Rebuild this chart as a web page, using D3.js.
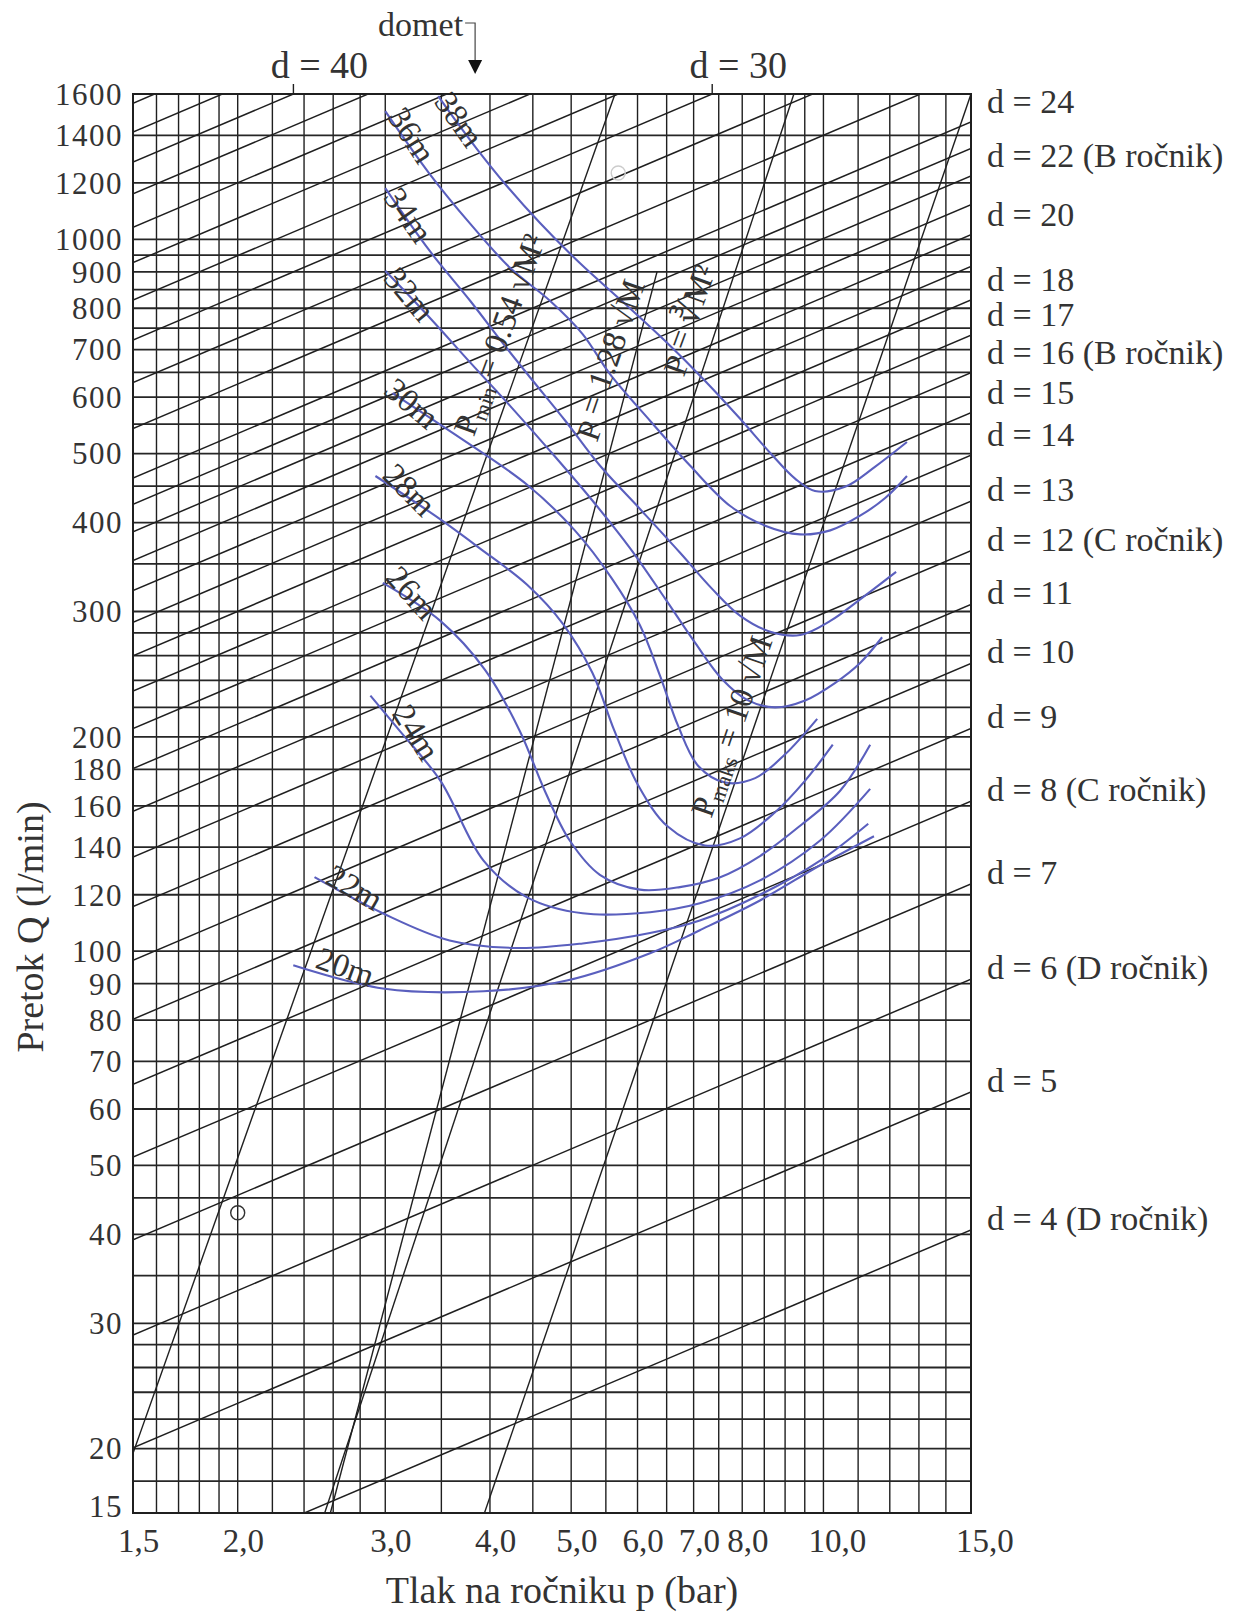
<!DOCTYPE html>
<html>
<head>
<meta charset="utf-8">
<script src="https://cdn.jsdelivr.net/npm/d3@7"></script>
<style>
  body { margin: 0; background: #fff; }
  svg text { font-family: "Liberation Serif", "Times New Roman", serif; fill: #333; }
</style>
</head>
<body>
<div id="chart"></div>
<script>
// ---- data ----
const pTicks = [1.5, 2.0, 3.0, 4.0, 5.0, 6.0, 7.0, 8.0, 10.0, 15.0];
const pGrid = [1.5, 1.6, 1.7, 1.8, 1.9, 2.0, 2.2, 2.4, 2.6, 2.8, 3.0, 3.5, 4.0, 4.5, 5.0, 5.5, 6.0, 6.5, 7.0, 7.5, 8.0, 8.5, 9.0, 9.5, 10, 11, 12, 13, 14, 15];
const qTicks = [15, 20, 30, 40, 50, 60, 70, 80, 90, 100, 120, 140, 160, 180, 200, 300, 400, 500, 600, 700, 800, 900, 1000, 1200, 1400, 1600];
const qGrid = [18, 20, 22, 24, 26, 28, 30, 35, 40, 45, 50, 60, 70, 80, 90, 100, 120, 140, 160, 180, 200, 220, 240, 260, 280, 300, 350, 400, 450, 500, 550, 600, 650, 700, 750, 800, 850, 900, 950, 1000, 1200, 1400, 1600];

// nozzle diameters (mm) of the oblique lines, Q = k * d^2 * sqrt(p)
const nozzleD = [4, 5, 6, 7, 8, 9, 10, 11, 12, 13, 14, 15, 16, 17, 18, 19, 20, 21, 22, 23, 24, 26, 28, 30, 32, 34, 36, 38, 40, 42, 44];
const nozzleK = 0.655;
const rightLabels = [
  [24, "d = 24"], [22, "d = 22 (B ročnik)"], [20, "d = 20"], [18, "d = 18"], [17, "d = 17"],
  [16, "d = 16 (B ročnik)"], [15, "d = 15"], [14, "d = 14"], [13, "d = 13"], [12, "d = 12 (C ročnik)"],
  [11, "d = 11"], [10, "d = 10"], [9, "d = 9"], [8, "d = 8 (C ročnik)"], [7, "d = 7"],
  [6, "d = 6 (D ročnik)"], [5, "d = 5"], [4, "d = 4 (D ročnik)"]
];
const topLabels = [[40, "d = 40"], [30, "d = 30"]];

// steep limit lines, [p, Q] end points
const limitLines = [
  [[1.5, 19.7], [5.64, 1600]],
  [[2.58, 16.24], [6.33, 900]],
  [[2.54, 16.24], [9.22, 1600]],
  [[3.94, 16.24], [15, 1600]]
];
const limitLabels = [
  { p: 4.10, q: 735, a: -70, head: "P", sub: "min", rest: " = 0.54 √M²" },
  { p: 5.61, q: 675, a: -71, head: "P", sub: "", rest: " = 1.28 √M" },
  { p: 6.97, q: 768, a: -70, head: "P", sub: "", rest: " = ∛M²" },
  { p: 7.76, q: 207, a: -71, head: "P", sub: "maks", rest: " = 10 √M" }
];

// throw-range curves (domet), [p, Q]
const range38 = [[3.47,1589],[3.63,1475],[3.86,1339],[4.17,1196],[4.59,1054],[5.12,926],[5.80,811],[6.47,720],[7.22,633],[7.95,560],[8.64,501],[9.25,461],[9.77,443],[10.61,449],[11.52,479],[12.58,519]];
const range36 = [[3.00,1514],[3.39,1235],[3.79,1051],[4.23,911],[4.72,819],[5.16,736],[5.56,647],[6.21,556],[6.93,481],[7.74,422],[8.52,396],[9.38,385],[10.19,390],[11.06,409],[11.85,433],[12.58,465]];
const range34 = [[3.00,1180],[3.39,963],[3.79,819],[4.15,713],[4.47,639],[4.92,556],[5.41,481],[6.04,418],[6.74,363],[7.36,323],[7.95,296],[8.64,281],[9.38,278],[10.19,291],[11.06,312],[12.21,341]];
const range32 = [[3.00,903],[3.39,776],[3.79,671],[4.23,583],[4.72,504],[5.27,433],[5.88,368],[6.47,313],[7.03,271],[7.57,241],[8.13,225],[8.75,220],[9.51,225],[10.32,238],[11.06,254],[11.75,276]];
const range30 = [[3.06,608],[3.64,531],[4.43,452],[5.05,390],[5.59,334],[6.04,287],[6.38,244],[6.71,207],[7.09,182],[7.63,172.5],[8.29,175],[9.00,189],[9.83,212]];
const range28 = [[2.92,465],[3.45,408],[3.89,368],[4.43,327],[4.89,288],[5.30,246],[5.63,204],[6.01,171],[6.52,149.6],[7.22,140.7],[7.95,144],[8.75,156.6],[9.51,173.6],[10.26,195]];
const range26 = [[2.98,329],[3.49,291],[3.95,248],[4.34,204],[4.65,168],[4.98,143],[5.41,128],[6.04,122],[6.74,123],[7.53,127],[8.40,136],[9.38,150],[10.47,168],[11.37,195]];
const range24 = [[2.88,228.5],[3.12,204],[3.49,173.6],[3.93,134],[4.43,119],[5.16,113],[6.21,113.4],[7.12,116.7],[8.40,125.7],[9.91,143],[11.37,169]];
const range22 = [[2.47,127],[2.98,113],[3.58,103.5],[4.31,101],[5.16,102.5],[6.21,106],[7.12,110.4],[8.40,120],[9.91,134],[11.31,151]];
const range20 = [[2.33,95.5],[2.98,88.6],[3.93,87.8],[4.94,90.9],[6.21,99.3],[7.12,107],[8.40,117.8],[9.91,132],[11.49,145]];
const rangeNames = ["38m", "36m", "34m", "32m", "30m", "28m", "26m", "24m", "22m", "20m"];
const rangeLabelPos = [[3.68,1475,55],[3.23,1401,57],[3.20,1082,55],[3.21,838,50],[3.23,589,40],[3.21,445,45],[3.23,319,48],[3.27,203,58],[2.76,123,30],[2.69,95.2,20]];

const circleMarks = [[2.0, 42.9]];
const faintMarks = [[5.69, 1239]];
const dometP = 3.84;

// ---- setup ----
const width = 1241, height = 1615;
const plot = { left: 133, right: 971, top: 94, bottom: 1513 };
const qMin = 16.24;

const svg = d3.select("#chart").append("svg")
  .attr("width", width)
  .attr("height", height);

const x = d3.scaleLog().domain([1.5, 15]).range([plot.left, plot.right]);
const y = d3.scaleLog().domain([qMin, 1600]).range([plot.bottom, plot.top]);
const yTick = y.copy().clamp(true);

svg.append("defs").append("clipPath").attr("id", "plotClip")
  .append("rect")
  .attr("x", plot.left).attr("y", plot.top)
  .attr("width", plot.right - plot.left).attr("height", plot.bottom - plot.top);

const ink = "#1f1f1f";

// grid
const grid = svg.append("g").attr("stroke", ink);
grid.selectAll(".v").data(pGrid).join("line")
  .attr("x1", d => x(d)).attr("x2", d => x(d))
  .attr("y1", plot.top).attr("y2", plot.bottom)
  .attr("stroke-width", 1.4);
grid.selectAll(".h").data(qGrid).join("line")
  .attr("x1", plot.left).attr("x2", plot.right)
  .attr("y1", d => y(d)).attr("y2", d => y(d))
  .attr("stroke-width", 1.8)
  .attr("stroke", "#262626");

// oblique nozzle lines
const nozzleQ = (d, p) => nozzleK * d * d * Math.sqrt(p);
const clipped = svg.append("g").attr("clip-path", "url(#plotClip)");
clipped.append("g").selectAll("line").data(nozzleD).join("line")
  .attr("x1", x(1.5)).attr("y1", d => y(nozzleQ(d, 1.5)))
  .attr("x2", x(15)).attr("y2", d => y(nozzleQ(d, 15)))
  .attr("stroke", ink).attr("stroke-width", 1.5);

// steep limit lines
const line = d3.line().x(d => x(d[0])).y(d => y(d[1]));
clipped.append("g").selectAll("path").data(limitLines).join("path")
  .attr("d", line)
  .attr("fill", "none").attr("stroke", ink).attr("stroke-width", 1.4);

// range curves
const curve = d3.line().x(d => x(d[0])).y(d => y(d[1])).curve(d3.curveCatmullRom.alpha(0.5));
const ranges = [range38, range36, range34, range32, range30, range28, range26, range24, range22, range20];
clipped.append("g").selectAll("path").data(ranges).join("path")
  .attr("d", curve)
  .attr("fill", "none").attr("stroke", "#5a5fbe").attr("stroke-width", 2.1);

// range labels
svg.append("g").selectAll("text").data(rangeNames).join("text")
  .attr("transform", (d, i) => `translate(${x(rangeLabelPos[i][0])},${y(rangeLabelPos[i][1])}) rotate(${rangeLabelPos[i][2]})`)
  .attr("text-anchor", "middle").attr("dy", "0.35em")
  .attr("font-size", 33).attr("fill", "#444")
  .text(d => d);

// limit line labels
const ll = svg.append("g").selectAll("text").data(limitLabels).join("text")
  .attr("transform", d => `translate(${x(d.p)},${y(d.q)}) rotate(${d.a})`)
  .attr("text-anchor", "middle").attr("dy", "0.35em")
  .attr("font-size", 33).attr("fill", "#555");
ll.append("tspan").text(d => d.head);
ll.append("tspan").attr("font-size", 22).attr("dy", 6).text(d => d.sub);
ll.append("tspan").attr("dy", -6).text(d => d.rest);

// circles
svg.append("g").selectAll("circle").data(circleMarks).join("circle")
  .attr("cx", d => x(d[0])).attr("cy", d => y(d[1])).attr("r", 7)
  .attr("fill", "none").attr("stroke", "#333").attr("stroke-width", 1.4);
svg.append("g").selectAll("circle").data(faintMarks).join("circle")
  .attr("cx", d => x(d[0])).attr("cy", d => y(d[1])).attr("r", 7)
  .attr("fill", "none").attr("stroke", "#ccc").attr("stroke-width", 1.4);

// frame
svg.append("rect")
  .attr("x", plot.left).attr("y", plot.top)
  .attr("width", plot.right - plot.left).attr("height", plot.bottom - plot.top)
  .attr("fill", "none").attr("stroke", ink).attr("stroke-width", 2);

// axis tick labels
svg.append("g").selectAll("text").data(qTicks).join("text")
  .attr("x", plot.left - 10).attr("y", d => Math.min(yTick(d), plot.bottom - 7))
  .attr("dy", "0.35em").attr("text-anchor", "end")
  .attr("font-size", 31).attr("letter-spacing", 1.5)
  .text(d => d);

svg.append("g").selectAll("text").data(pTicks).join("text")
  .attr("x", d => x(d) - 15).attr("y", plot.bottom + 39)
  .attr("text-anchor", "start")
  .attr("font-size", 33)
  .text(d => d.toFixed(1).replace(".", ","));

// axis titles
svg.append("text")
  .attr("x", 562).attr("y", 1603)
  .attr("text-anchor", "middle").attr("font-size", 38)
  .text("Tlak na ročniku p (bar)");
svg.append("text")
  .attr("transform", "translate(43,927) rotate(-90)")
  .attr("text-anchor", "middle").attr("font-size", 38)
  .text("Pretok Q (l/min)");

// right d labels
svg.append("g").selectAll("text").data(rightLabels).join("text")
  .attr("x", plot.right + 16)
  .attr("y", d => Math.max(y(nozzleQ(d[0], 15)) - (d[0] >= 14 ? 9 : 0), plot.top + 17))
  .attr("font-size", 34)
  .text(d => d[1]);

// top d labels with ticks
const topG = svg.append("g");
topLabels.forEach(([d, t]) => {
  const pt = Math.pow(1600 / (nozzleK * d * d), 2);
  const xx = x(pt);
  topG.append("line").attr("x1", xx).attr("x2", xx).attr("y1", plot.top - 10).attr("y2", plot.top)
    .attr("stroke", ink).attr("stroke-width", 1.4);
  topG.append("text").attr("x", xx + 26).attr("y", plot.top - 16)
    .attr("text-anchor", "middle").attr("font-size", 38).text(t);
});

// domet marker
const dx = x(dometP);
svg.append("text").attr("x", dx - 12).attr("y", 36).attr("text-anchor", "end")
  .attr("font-size", 34).text("domet");
svg.append("path")
  .attr("d", `M${dx - 10},23 H${dx} V60`)
  .attr("fill", "none").attr("stroke", "#444").attr("stroke-width", 1.2);
svg.append("path")
  .attr("d", `M${dx - 7},60 L${dx + 7},60 L${dx},74 Z`)
  .attr("fill", "#111");
</script>
</body>
</html>
